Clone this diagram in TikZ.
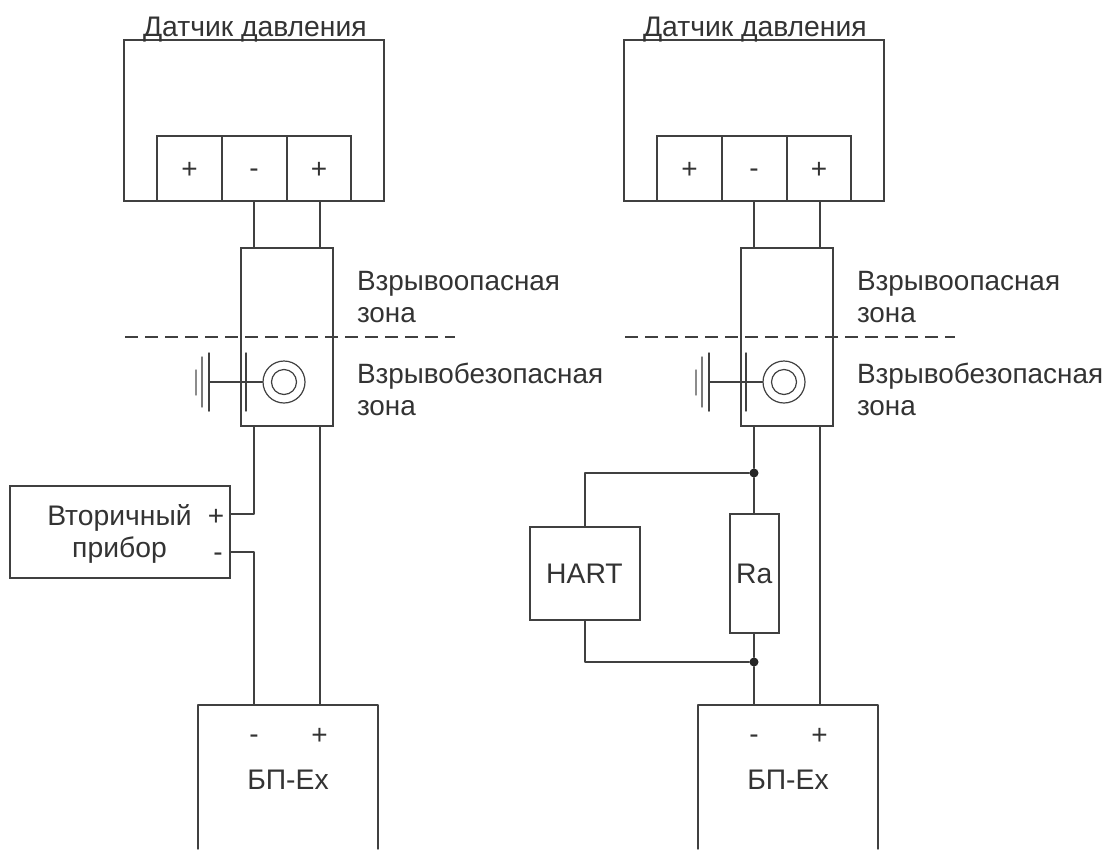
\documentclass[tikz,border=0pt]{standalone}
\usepackage{fontspec}
\setmainfont{Liberation Sans}
\definecolor{ln}{HTML}{404040}
\definecolor{tx}{HTML}{333333}
\tikzset{
  x=1pt,y=-1pt,
  wire/.style={draw=ln,line width=1.4pt,line cap=round,line join=round},
  box/.style={draw=ln,line width=1.4pt,fill=none,inner sep=0pt,outer sep=0pt,anchor=north west},
  lbl/.style={text=tx,inner sep=0pt,outer sep=0pt,font=\fontsize{28.3}{32}\selectfont},
  zone/.style={lbl,font=\fontsize{27.9}{32}\selectfont,anchor=west,align=left},
  sign/.style={text=tx,inner sep=0pt,outer sep=0pt,anchor=base,font=\fontsize{28}{28}\selectfont},
  junction/.style={circle,fill=black!85,draw=none,minimum size=9pt,inner sep=0pt},
  common/.pic={
    \node[box,minimum width=260pt,minimum height=161pt] (sensor) at (124,40) {};
    \node[box,minimum width=65pt,minimum height=65pt] (t1) at (157,136) {};
    \node[box,minimum width=65pt,minimum height=65pt] (t2) at (222,136) {};
    \node[box,minimum width=64pt,minimum height=65pt] (t3) at (287,136) {};
    \node[sign] (p1) at (189.5,178) {+};
    \node[sign] (m2) at (254,177) {-};
    \node[sign] (p3) at (319,178) {+};
    \node[lbl,anchor=base west] (title) at (143,36) {Датчик давления};
    \node[box,minimum width=92pt,minimum height=178pt] (bar) at (241,248) {};
    \node[zone] (z1) at (357,297) {Взрывоопасная\\зона};
    \node[zone] (z2) at (357,389) {Взрывобезопасная\\зона};
    \coordinate (d1) at (125,337);
    \coordinate (d2) at (455,337);
    \draw[wire,dash pattern=on 13pt off 7pt,line cap=butt] (d1) -- (d2);
    \node[circle,draw=ln,line width=1.2pt,minimum size=42pt,inner sep=0pt] (ring) at (284,382) {};
    \node[circle,draw=ln,line width=1.2pt,minimum size=25pt,inner sep=0pt] (ringin) at (284,382) {};
    \coordinate (g0t) at (246,353); \coordinate (g0b) at (246,411);
    \coordinate (g1t) at (209,353); \coordinate (g1b) at (209,411);
    \coordinate (g2t) at (202,357); \coordinate (g2b) at (202,407);
    \coordinate (g3t) at (196,370); \coordinate (g3b) at (196,395);
    \coordinate (g1m) at (209,382);
    \draw[wire] (g0t) -- (g0b);
    \draw[wire,line width=1.5pt] (g1t) -- (g1b);
    \draw[wire,draw=ln!70] (g2t) -- (g2b);
    \draw[wire,draw=ln!60] (g3t) -- (g3b);
    \draw[wire] (g1m) -- (ring.west);
    \coordinate (s1) at (254,201); \coordinate (s2) at (320,201);
    \coordinate (b1) at (254,248); \coordinate (b2) at (320,248);
    \coordinate (c1) at (254,426); \coordinate (c2) at (320,426);
    \draw[wire] (s1) -- (b1);
    \draw[wire] (s2) -- (b2);
    \coordinate (bpa) at (198,849); \coordinate (bpb) at (198,705);
    \coordinate (bpc) at (378,705); \coordinate (bpd) at (378,849);
    \draw[wire] (bpa) -- (bpb) -- (bpc) -- (bpd);
    \coordinate (e1) at (254,705); \coordinate (e2) at (320,705);
    \draw[wire] (c2) -- (e2);
    \node[sign] (bm) at (254,743) {-};
    \node[sign] (bp) at (319.5,744) {+};
    \node[lbl,anchor=base] (bptext) at (288,789) {БП-Ex};
  }
}
\begin{document}
\begin{tikzpicture}
\useasboundingbox (0,0) rectangle (1110,849);
\pic (L-) at (0,0) {common};
\pic (R-) at (500,0) {common};
% left: secondary instrument
\node[box,minimum width=220pt,minimum height=92pt] (instr) at (10,486) {};
\node[lbl,align=center,anchor=center] (instrt) at (119.5,534) {Вторичный\\прибор};
\node[sign] (ip) at (216,525) {+};
\node[sign] (im) at (218,561) {-};
\coordinate (ipw) at (230,514);
\coordinate (imw) at (230,552);
\draw[wire] (L-c1) |- (ipw);
\draw[wire] (imw) -| (L-e1);
% right: HART and Ra
\node[junction] (j1) at (754,473) {};
\node[junction] (j2) at (754,662) {};
\node[box,minimum width=110pt,minimum height=93pt] (hart) at (530,527) {};
\node[lbl,anchor=center] (harttext) at (584.5,574) {HART};
\node[box,minimum width=49pt,minimum height=119pt] (ra) at (730,514) {};
\node[lbl,anchor=center] (ratext) at (754.3,574) {Ra};
\draw[wire] (R-c1) -- (j1);
\draw[wire] (j1) -- (j1 |- ra.north);
\draw[wire] (j1 |- ra.south) -- (j2);
\draw[wire] (j2) -- (R-e1);
\draw[wire] (hart.north) |- (j1);
\draw[wire] (hart.south) |- (j2);
\end{tikzpicture}
\end{document}
